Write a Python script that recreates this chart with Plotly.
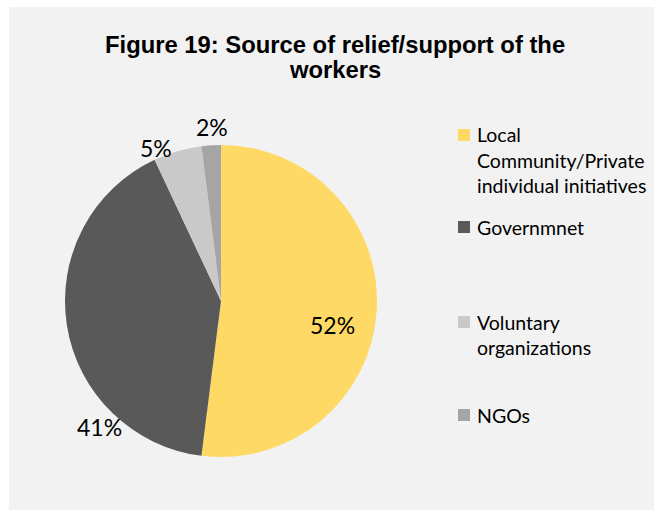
import plotly.graph_objects as go

# Source of relief/support, share of workers (%)
categories = ["Local Community/Private individual initiatives", "Governmnet",
              "Voluntary organizations", "NGOs"]
legend_lines = [["Local", "Community/Private", "individual initiatives"],
                ["Governmnet"],
                ["Voluntary", "organizations"],
                ["NGOs"]]
shares = [52, 41, 5, 2]
colors = ["#FFD966", "#595959", "#C9C9C9", "#A5A5A5"]

title_lines = ["Figure 19: Source of relief/support of the", "workers"]

W, H = 654, 510


def px(x):
    return x / W


def py(y):
    return 1 - y / H


fig = go.Figure()

# pie: centre (221, 301) px, radius 156 px
cx, cy, r = 221, 301, 156
fig.add_trace(go.Pie(
    labels=categories,
    values=shares,
    sort=False,
    direction="clockwise",
    rotation=0,
    marker=dict(colors=colors, line=dict(width=0)),
    textinfo="none",
    hoverinfo="label+percent",
    showlegend=False,
    domain=dict(x=[px(cx - r), px(cx + r)], y=[py(cy + r), py(cy - r)]),
))

annotations = []

# title
for text, yc in zip(title_lines, [44, 70]):
    annotations.append(dict(
        text=f"<b>{text}</b>", x=px(335), y=py(yc), xref="paper", yref="paper",
        xanchor="center", yanchor="middle", showarrow=False,
        font=dict(family="Liberation Sans, Arial, sans-serif", size=23.8, color="#000000"),
    ))

# percentage labels
label_pos = [(332, 325), (99, 427), (156, 148), (212, 127)]
for v, (lx, ly) in zip(shares, label_pos):
    annotations.append(dict(
        text=f"{v}%", x=px(lx), y=py(ly), xref="paper", yref="paper",
        xanchor="center", yanchor="middle", showarrow=False,
        font=dict(family="Lato, Noto Sans, sans-serif", size=23, color="#000000"),
    ))

# legend: colour square + text lines
shapes = [dict(type="rect", xref="paper", yref="paper",
               x0=px(9), x1=1, y0=0, y1=py(7),
               fillcolor="#F2F2F2", line=dict(width=0), layer="below")]
entry_tops = [135, 227, 322, 415]
line_gap = 25.3
for lines, col, y0 in zip(legend_lines, colors, entry_tops):
    shapes.append(dict(type="rect", xref="paper", yref="paper",
                       x0=px(458), x1=px(470), y0=py(y0 + 6), y1=py(y0 - 6),
                       fillcolor=col, line=dict(width=0)))
    for i, t in enumerate(lines):
        annotations.append(dict(
            text=t, x=px(475), y=py(y0 + i * line_gap), xref="paper", yref="paper",
            xanchor="left", yanchor="middle", showarrow=False,
            font=dict(family="Lato, Noto Sans, sans-serif", size=19.5, color="#000000"),
        ))

fig.update_layout(
    width=W, height=H,
    margin=dict(l=0, r=0, t=0, b=0),
    paper_bgcolor="#FFFFFF",
    plot_bgcolor="#FFFFFF",
    shapes=shapes,
    annotations=annotations,
    showlegend=False,
)

fig.write_html("out.html")
